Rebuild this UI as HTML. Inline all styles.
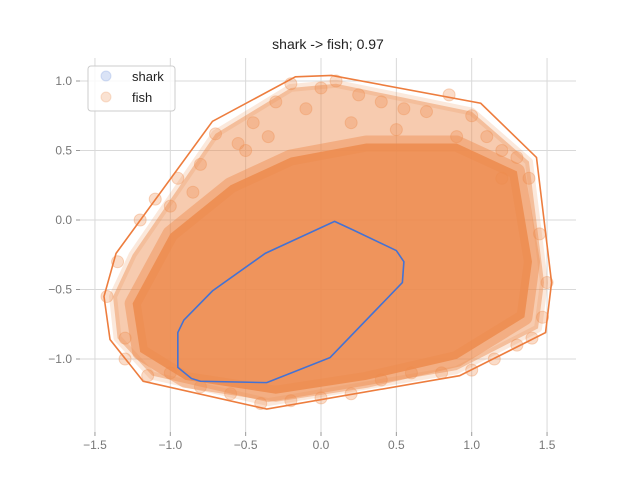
<!DOCTYPE html>
<html><head><meta charset="utf-8"><style>
body{margin:0;background:#fff}
svg{display:block;font-family:"Liberation Sans","DejaVu Sans",sans-serif}
</style></head><body>
<svg id="chart" width="640" height="480">
<text x="328" y="49" text-anchor="middle" font-size="14" fill="#222">shark -&gt; fish; 0.97</text>
<g id="grid"></g>
<g id="cloud"></g>
<g id="hulls"></g>
<g id="axes"></g>
<g>
<rect x="88" y="66" width="87" height="45" rx="3" fill="#fff" fill-opacity="0.8" stroke="#ccc"/>
<circle cx="106" cy="76" r="5" fill="#4472d4" fill-opacity="0.2" stroke="#4472d4" stroke-opacity="0.2"/>
<text x="132" y="81" font-size="13" fill="#222">shark</text>
<circle cx="106" cy="97" r="5" fill="#ed8b4d" fill-opacity="0.25" stroke="#ed8b4d" stroke-opacity="0.25"/>
<text x="132" y="102" font-size="13" fill="#222">fish</text>
</g>
</svg>
<script>
const xTicks=[-1.5,-1.0,-0.5,0.0,0.5,1.0,1.5];
const yTicks=[1.0,0.5,0.0,-0.5,-1.0];
const fishHullX=[-1.44,-1.36,-0.72,-0.17,0.07,1.06,1.43,1.53,1.49,0.92,-0.36,-1.18,-1.40];
const fishHullY=[-0.55,-0.24,0.71,1.03,1.04,0.84,0.45,-0.45,-0.81,-1.12,-1.36,-1.16,-0.86];
const sharkHullX=[0.09,0.21,0.50,0.55,0.54,0.06,-0.36,-0.80,-0.86,-0.95,-0.95,-0.91,-0.72,-0.37];
const sharkHullY=[-0.01,-0.07,-0.22,-0.30,-0.45,-0.99,-1.17,-1.16,-1.14,-1.06,-0.81,-0.72,-0.51,-0.24];
const coreX=[-1.25,-1.0,-0.6,-0.2,0.3,0.9,1.3,1.4,1.35,0.9,0.3,-0.3,-0.9,-1.2];
const coreY=[-0.6,-0.1,0.25,0.45,0.55,0.55,0.35,-0.3,-0.7,-1.0,-1.15,-1.25,-1.15,-0.95];
const haloX=[-1.38,-1.25,-0.7,-0.2,0.1,1.0,1.38,1.48,1.44,0.9,-0.35,-1.12,-1.35];
const haloY=[-0.55,-0.25,0.62,0.95,0.98,0.78,0.42,-0.45,-0.78,-1.08,-1.31,-1.12,-0.85];
const fishX=[-1.42,-1.35,-1.3,-1.2,-1.1,-0.95,-0.8,-0.7,-0.55,-0.45,-0.3,-0.2,-0.1,0.0,0.1,0.25,0.4,0.55,0.7,0.85,1.0,1.1,1.2,1.3,1.38,1.45,1.5,1.47,1.4,1.3,1.15,1.0,0.8,0.6,0.4,0.2,0.0,-0.2,-0.4,-0.6,-0.8,-1.0,-1.15,-1.3,-0.5,-0.35,0.2,0.5,0.9,1.2,-1.0,-0.85];
const fishY=[-0.55,-0.3,-0.85,0.0,0.15,0.3,0.4,0.62,0.55,0.7,0.85,0.98,0.8,0.95,1.0,0.9,0.85,0.8,0.78,0.9,0.75,0.6,0.5,0.45,0.3,-0.1,-0.45,-0.7,-0.85,-0.9,-1.0,-1.08,-1.1,-1.1,-1.15,-1.25,-1.28,-1.3,-1.32,-1.25,-1.2,-1.1,-1.12,-1.0,0.5,0.6,0.7,0.65,0.6,0.3,0.1,0.2];
const sx=v=>321+v*150.7, sy=v=>220-v*139;
const NS="http://www.w3.org/2000/svg";
function mk(tag,attrs,parent){const e=document.createElementNS(NS,tag);for(const k in attrs)e.setAttribute(k,attrs[k]);parent.appendChild(e);return e;}
const grid=document.getElementById('grid'),axes=document.getElementById('axes'),cloud=document.getElementById('cloud'),hulls=document.getElementById('hulls');
xTicks.forEach(t=>{
 const l=mk('line',{x1:sx(t),x2:sx(t),y1:58,y2:432,stroke:'#d9d9d9','stroke-width':1},grid);
 
 
 mk('line',{x1:sx(t),x2:sx(t),y1:432,y2:436,stroke:'#999'},axes);
 const tx=mk('text',{x:sx(t),y:449,'text-anchor':'middle','font-size':12,fill:'#777'},axes);
 tx.textContent=t.toFixed(1).replace('-','−');
 
 
});
yTicks.forEach(t=>{
 const l=mk('line',{x1:80,x2:576,y1:sy(t),y2:sy(t),stroke:'#d9d9d9','stroke-width':1},grid);
 
 
 mk('line',{x1:76,x2:80,y1:sy(t),y2:sy(t),stroke:'#999'},axes);
 const tx=mk('text',{x:72,y:sy(t)+4,'text-anchor':'end','font-size':12,fill:'#777'},axes);
 tx.textContent=t.toFixed(1).replace('-','−');
 
 
});
const pts=(X,Y)=>X.map((x,i)=>sx(x)+','+sy(Y[i])).join(' ');
const halo=mk('polygon',{points:pts(haloX,haloY),fill:'#ed8b4d','fill-opacity':0.45,stroke:'#ed8b4d','stroke-opacity':0.2,'stroke-width':8,'stroke-linejoin':'round'},cloud);


const core=mk('polygon',{points:pts(coreX,coreY),fill:'#ed8b4d','fill-opacity':0.85,stroke:'#ed8b4d','stroke-opacity':0.45,'stroke-width':16,'stroke-linejoin':'round'},cloud);


fishX.forEach((x,i)=>{
 const c=mk('circle',{cx:sx(x),cy:sy(fishY[i]),r:6,fill:'#ed8b4d','fill-opacity':0.3,stroke:'#ed8b4d','stroke-opacity':0.35},cloud);
 
 
});
const fh=mk('polygon',{points:pts(fishHullX,fishHullY),fill:'none',stroke:'#ed7d3e','stroke-width':1.6},hulls);


const sh=mk('polygon',{points:pts(sharkHullX,sharkHullY),fill:'none',stroke:'#4472d4','stroke-width':1.6},hulls);


</script>
</body></html>
